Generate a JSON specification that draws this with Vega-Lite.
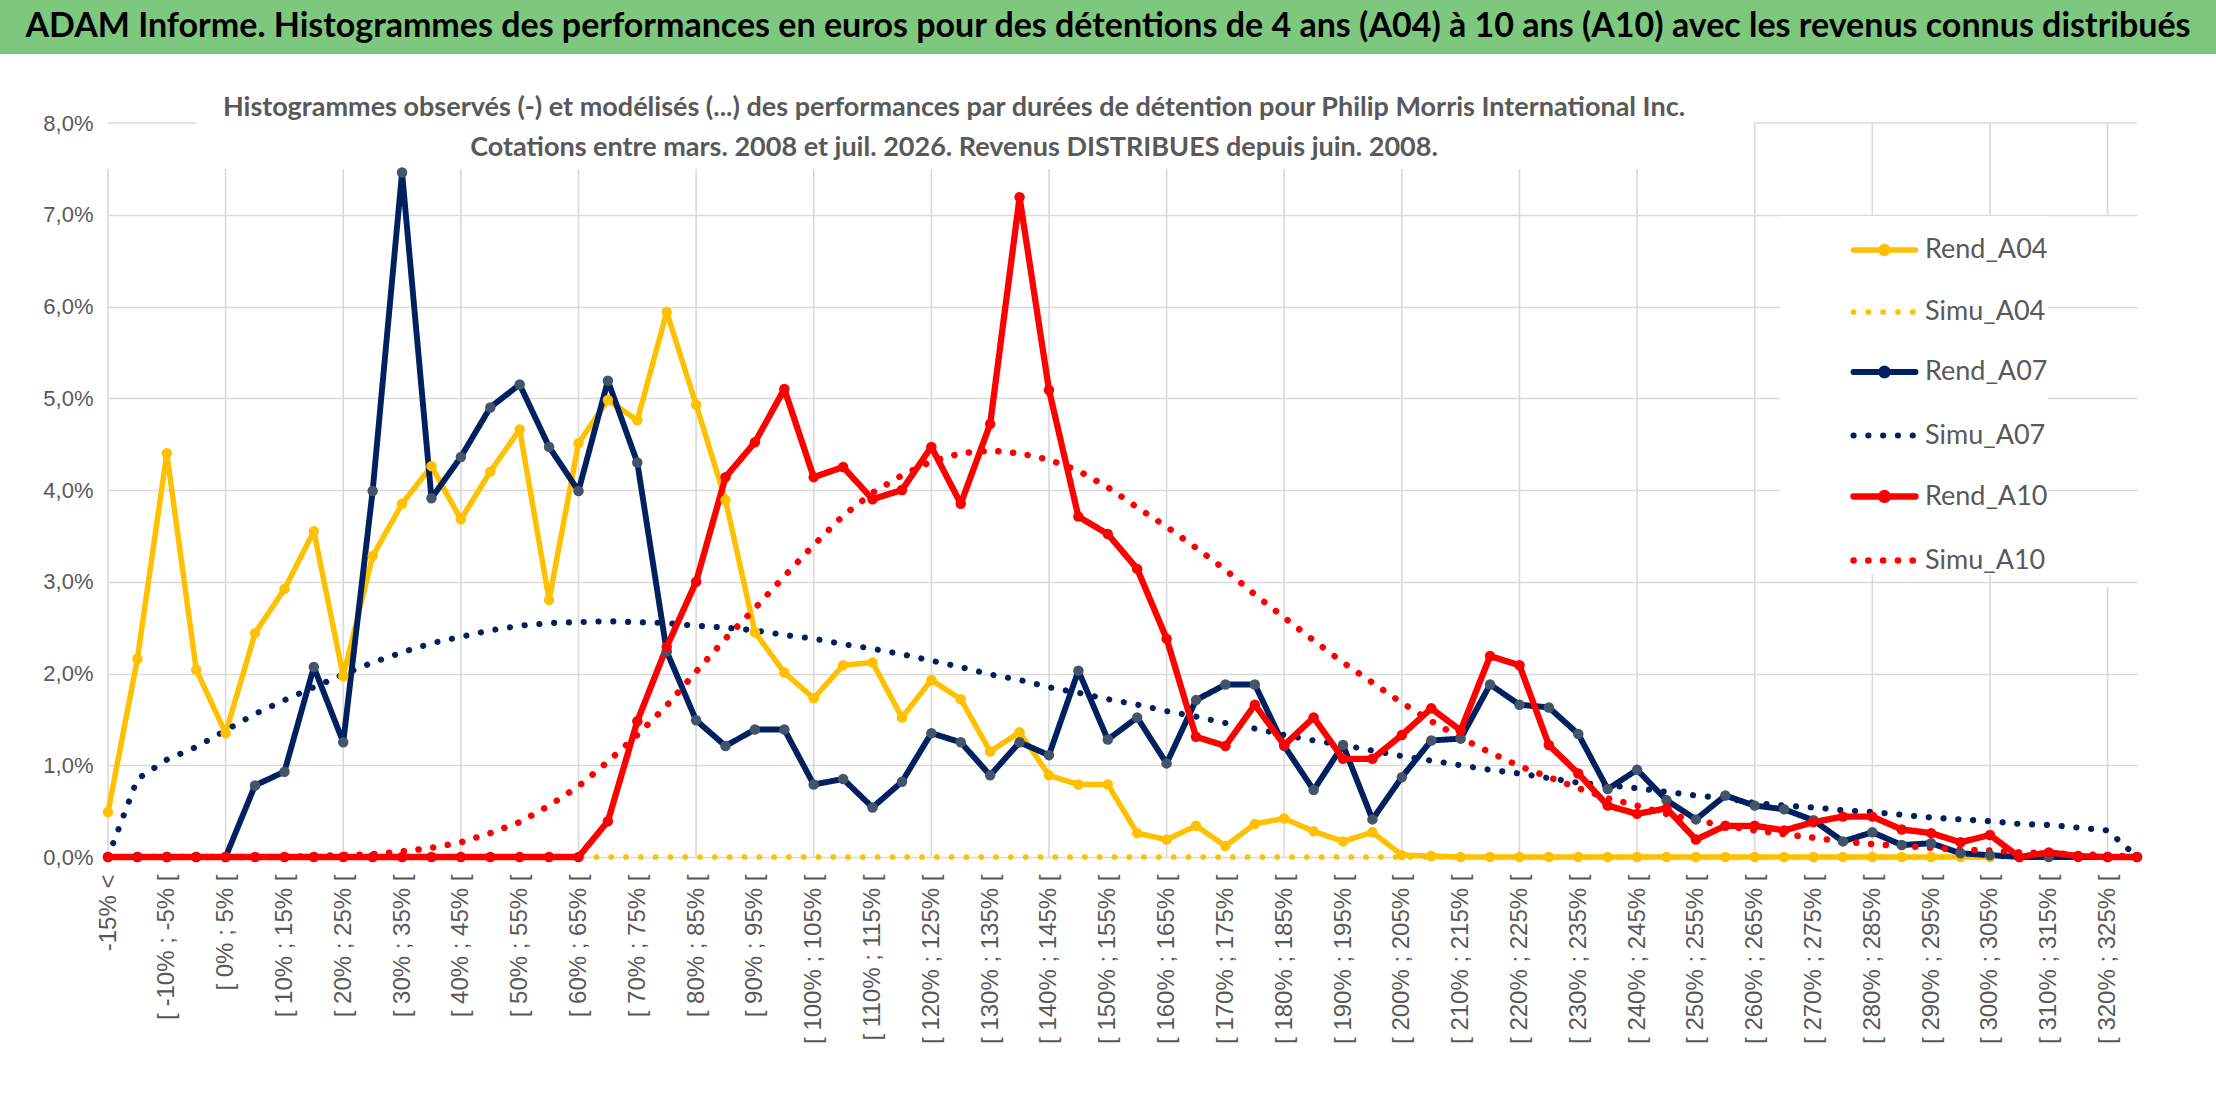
{
  "$schema": "https://vega.github.io/schema/vega-lite/v6.json",
  "background": "white",
  "padding": 0,
  "spacing": 40,
  "config": {
    "view": {"stroke": null},
    "font": "Lato, Liberation Sans, sans-serif"
  },
  "vconcat": [
    {
      "width": 2216,
      "height": 54,
      "view": {"fill": "#7DC77F", "stroke": null},
      "data": {"values": [{"t": "ADAM Informe. Histogrammes des performances en euros pour des détentions de 4 ans (A04) à 10 ans (A10) avec les revenus connus distribués"}]},
      "mark": {"type": "text", "fontSize": 34, "fontWeight": "bold", "color": "#000000", "font": "Lato, Liberation Sans, sans-serif"},
      "encoding": {"text": {"field": "t", "type": "nominal"}}
    },
    {
      "width": 2216,
      "height": 734,
      "title": {
        "text": [
          "Histogrammes observés (-) et modélisés (...) des performances par durées de détention pour Philip Morris International Inc.",
          "Cotations entre mars. 2008 et juil. 2026. Revenus DISTRIBUES depuis juin. 2008."
        ],
        "font": "Lato, Liberation Sans, sans-serif",
        "fontSize": 27,
        "fontWeight": "bold",
        "color": "#595959",
        "lineHeight": 40,
        "anchor": "middle",
        "frame": "group",
        "dx": -154,
        "offset": -50
      },
      "data": {
        "values": [
          {"c": "-15% <", "Rend_A04": 0.49, "Simu_A04": 0, "Rend_A07": 0, "Simu_A07": 0, "Rend_A10": 0, "Simu_A10": 0},
          {"c": "[ -15% ; -10% [", "Rend_A04": 2.16, "Simu_A04": 0, "Rend_A07": 0, "Simu_A07": 0.85, "Rend_A10": 0, "Simu_A10": 0},
          {"c": "[ -10% ; -5% [", "Rend_A04": 4.40, "Simu_A04": 0, "Rend_A07": 0, "Simu_A07": 1.06, "Rend_A10": 0, "Simu_A10": 0},
          {"c": "[ -5% ; 0% [", "Rend_A04": 2.04, "Simu_A04": 0, "Rend_A07": 0, "Simu_A07": 1.20, "Rend_A10": 0, "Simu_A10": 0},
          {"c": "[ 0% ; 5% [", "Rend_A04": 1.35, "Simu_A04": 0, "Rend_A07": 0, "Simu_A07": 1.38, "Rend_A10": 0, "Simu_A10": 0},
          {"c": "[ 5% ; 10% [", "Rend_A04": 2.44, "Simu_A04": 0, "Rend_A07": 0.78, "Simu_A07": 1.56, "Rend_A10": 0, "Simu_A10": 0},
          {"c": "[ 10% ; 15% [", "Rend_A04": 2.92, "Simu_A04": 0, "Rend_A07": 0.93, "Simu_A07": 1.71, "Rend_A10": 0, "Simu_A10": 0},
          {"c": "[ 15% ; 20% [", "Rend_A04": 3.55, "Simu_A04": 0, "Rend_A07": 2.07, "Simu_A07": 1.85, "Rend_A10": 0, "Simu_A10": 0.01},
          {"c": "[ 20% ; 25% [", "Rend_A04": 1.97, "Simu_A04": 0, "Rend_A07": 1.25, "Simu_A07": 1.99, "Rend_A10": 0, "Simu_A10": 0.02},
          {"c": "[ 25% ; 30% [", "Rend_A04": 3.28, "Simu_A04": 0, "Rend_A07": 3.99, "Simu_A07": 2.12, "Rend_A10": 0, "Simu_A10": 0.03},
          {"c": "[ 30% ; 35% [", "Rend_A04": 3.85, "Simu_A04": 0, "Rend_A07": 7.46, "Simu_A07": 2.23, "Rend_A10": 0, "Simu_A10": 0.06},
          {"c": "[ 35% ; 40% [", "Rend_A04": 4.26, "Simu_A04": 0, "Rend_A07": 3.91, "Simu_A07": 2.33, "Rend_A10": 0, "Simu_A10": 0.10},
          {"c": "[ 40% ; 45% [", "Rend_A04": 3.68, "Simu_A04": 0, "Rend_A07": 4.36, "Simu_A07": 2.40, "Rend_A10": 0, "Simu_A10": 0.16},
          {"c": "[ 45% ; 50% [", "Rend_A04": 4.20, "Simu_A04": 0, "Rend_A07": 4.90, "Simu_A07": 2.47, "Rend_A10": 0, "Simu_A10": 0.26},
          {"c": "[ 50% ; 55% [", "Rend_A04": 4.66, "Simu_A04": 0, "Rend_A07": 5.15, "Simu_A07": 2.52, "Rend_A10": 0, "Simu_A10": 0.38},
          {"c": "[ 55% ; 60% [", "Rend_A04": 2.80, "Simu_A04": 0, "Rend_A07": 4.47, "Simu_A07": 2.55, "Rend_A10": 0, "Simu_A10": 0.56},
          {"c": "[ 60% ; 65% [", "Rend_A04": 4.51, "Simu_A04": 0, "Rend_A07": 3.99, "Simu_A07": 2.56, "Rend_A10": 0, "Simu_A10": 0.77},
          {"c": "[ 65% ; 70% [", "Rend_A04": 4.98, "Simu_A04": 0, "Rend_A07": 5.19, "Simu_A07": 2.57, "Rend_A10": 0.39, "Simu_A10": 1.04},
          {"c": "[ 70% ; 75% [", "Rend_A04": 4.76, "Simu_A04": 0, "Rend_A07": 4.30, "Simu_A07": 2.56, "Rend_A10": 1.48, "Simu_A10": 1.33},
          {"c": "[ 75% ; 80% [", "Rend_A04": 5.94, "Simu_A04": 0, "Rend_A07": 2.24, "Simu_A07": 2.55, "Rend_A10": 2.29, "Simu_A10": 1.65},
          {"c": "[ 80% ; 85% [", "Rend_A04": 4.93, "Simu_A04": 0, "Rend_A07": 1.49, "Simu_A07": 2.52, "Rend_A10": 3.00, "Simu_A10": 2.02},
          {"c": "[ 85% ; 90% [", "Rend_A04": 3.89, "Simu_A04": 0, "Rend_A07": 1.21, "Simu_A07": 2.50, "Rend_A10": 4.14, "Simu_A10": 2.38},
          {"c": "[ 90% ; 95% [", "Rend_A04": 2.45, "Simu_A04": 0, "Rend_A07": 1.39, "Simu_A07": 2.47, "Rend_A10": 4.52, "Simu_A10": 2.71},
          {"c": "[ 95% ; 100% [", "Rend_A04": 2.01, "Simu_A04": 0, "Rend_A07": 1.39, "Simu_A07": 2.42, "Rend_A10": 5.10, "Simu_A10": 3.06},
          {"c": "[ 100% ; 105% [", "Rend_A04": 1.73, "Simu_A04": 0, "Rend_A07": 0.79, "Simu_A07": 2.38, "Rend_A10": 4.14, "Simu_A10": 3.40},
          {"c": "[ 105% ; 110% [", "Rend_A04": 2.09, "Simu_A04": 0, "Rend_A07": 0.85, "Simu_A07": 2.32, "Rend_A10": 4.25, "Simu_A10": 3.72},
          {"c": "[ 110% ; 115% [", "Rend_A04": 2.12, "Simu_A04": 0, "Rend_A07": 0.54, "Simu_A07": 2.27, "Rend_A10": 3.90, "Simu_A10": 3.97},
          {"c": "[ 115% ; 120% [", "Rend_A04": 1.52, "Simu_A04": 0, "Rend_A07": 0.82, "Simu_A07": 2.21, "Rend_A10": 4.00, "Simu_A10": 4.16},
          {"c": "[ 120% ; 125% [", "Rend_A04": 1.93, "Simu_A04": 0, "Rend_A07": 1.35, "Simu_A07": 2.14, "Rend_A10": 4.47, "Simu_A10": 4.31},
          {"c": "[ 125% ; 130% [", "Rend_A04": 1.72, "Simu_A04": 0, "Rend_A07": 1.25, "Simu_A07": 2.07, "Rend_A10": 3.85, "Simu_A10": 4.40},
          {"c": "[ 130% ; 135% [", "Rend_A04": 1.15, "Simu_A04": 0, "Rend_A07": 0.89, "Simu_A07": 1.99, "Rend_A10": 4.72, "Simu_A10": 4.43},
          {"c": "[ 135% ; 140% [", "Rend_A04": 1.36, "Simu_A04": 0, "Rend_A07": 1.25, "Simu_A07": 1.93, "Rend_A10": 7.19, "Simu_A10": 4.40},
          {"c": "[ 140% ; 145% [", "Rend_A04": 0.89, "Simu_A04": 0, "Rend_A07": 1.11, "Simu_A07": 1.85, "Rend_A10": 5.09, "Simu_A10": 4.33},
          {"c": "[ 145% ; 150% [", "Rend_A04": 0.79, "Simu_A04": 0, "Rend_A07": 2.03, "Simu_A07": 1.79, "Rend_A10": 3.71, "Simu_A10": 4.21},
          {"c": "[ 150% ; 155% [", "Rend_A04": 0.79, "Simu_A04": 0, "Rend_A07": 1.28, "Simu_A07": 1.72, "Rend_A10": 3.52, "Simu_A10": 4.03},
          {"c": "[ 155% ; 160% [", "Rend_A04": 0.26, "Simu_A04": 0, "Rend_A07": 1.52, "Simu_A07": 1.66, "Rend_A10": 3.14, "Simu_A10": 3.81},
          {"c": "[ 160% ; 165% [", "Rend_A04": 0.19, "Simu_A04": 0, "Rend_A07": 1.02, "Simu_A07": 1.59, "Rend_A10": 2.38, "Simu_A10": 3.60},
          {"c": "[ 165% ; 170% [", "Rend_A04": 0.34, "Simu_A04": 0, "Rend_A07": 1.71, "Simu_A07": 1.53, "Rend_A10": 1.31, "Simu_A10": 3.37},
          {"c": "[ 170% ; 175% [", "Rend_A04": 0.12, "Simu_A04": 0, "Rend_A07": 1.88, "Simu_A07": 1.46, "Rend_A10": 1.21, "Simu_A10": 3.13},
          {"c": "[ 175% ; 180% [", "Rend_A04": 0.36, "Simu_A04": 0, "Rend_A07": 1.88, "Simu_A07": 1.40, "Rend_A10": 1.66, "Simu_A10": 2.86},
          {"c": "[ 180% ; 185% [", "Rend_A04": 0.42, "Simu_A04": 0, "Rend_A07": 1.21, "Simu_A07": 1.33, "Rend_A10": 1.22, "Simu_A10": 2.61},
          {"c": "[ 185% ; 190% [", "Rend_A04": 0.28, "Simu_A04": 0, "Rend_A07": 0.73, "Simu_A07": 1.27, "Rend_A10": 1.52, "Simu_A10": 2.36},
          {"c": "[ 190% ; 195% [", "Rend_A04": 0.17, "Simu_A04": 0, "Rend_A07": 1.22, "Simu_A07": 1.22, "Rend_A10": 1.07, "Simu_A10": 2.12},
          {"c": "[ 195% ; 200% [", "Rend_A04": 0.27, "Simu_A04": 0, "Rend_A07": 0.41, "Simu_A07": 1.16, "Rend_A10": 1.07, "Simu_A10": 1.90},
          {"c": "[ 200% ; 205% [", "Rend_A04": 0.02, "Simu_A04": 0, "Rend_A07": 0.87, "Simu_A07": 1.10, "Rend_A10": 1.33, "Simu_A10": 1.68},
          {"c": "[ 205% ; 210% [", "Rend_A04": 0.01, "Simu_A04": 0, "Rend_A07": 1.27, "Simu_A07": 1.05, "Rend_A10": 1.62, "Simu_A10": 1.48},
          {"c": "[ 210% ; 215% [", "Rend_A04": 0, "Simu_A04": 0, "Rend_A07": 1.29, "Simu_A07": 1.00, "Rend_A10": 1.38, "Simu_A10": 1.30},
          {"c": "[ 215% ; 220% [", "Rend_A04": 0, "Simu_A04": 0, "Rend_A07": 1.88, "Simu_A07": 0.95, "Rend_A10": 2.19, "Simu_A10": 1.14},
          {"c": "[ 220% ; 225% [", "Rend_A04": 0, "Simu_A04": 0, "Rend_A07": 1.66, "Simu_A07": 0.91, "Rend_A10": 2.09, "Simu_A10": 0.99},
          {"c": "[ 225% ; 230% [", "Rend_A04": 0, "Simu_A04": 0, "Rend_A07": 1.63, "Simu_A07": 0.86, "Rend_A10": 1.22, "Simu_A10": 0.87},
          {"c": "[ 230% ; 235% [", "Rend_A04": 0, "Simu_A04": 0, "Rend_A07": 1.34, "Simu_A07": 0.81, "Rend_A10": 0.91, "Simu_A10": 0.75},
          {"c": "[ 235% ; 240% [", "Rend_A04": 0, "Simu_A04": 0, "Rend_A07": 0.74, "Simu_A07": 0.78, "Rend_A10": 0.56, "Simu_A10": 0.64},
          {"c": "[ 240% ; 245% [", "Rend_A04": 0, "Simu_A04": 0, "Rend_A07": 0.95, "Simu_A07": 0.75, "Rend_A10": 0.47, "Simu_A10": 0.56},
          {"c": "[ 245% ; 250% [", "Rend_A04": 0, "Simu_A04": 0, "Rend_A07": 0.62, "Simu_A07": 0.71, "Rend_A10": 0.53, "Simu_A10": 0.47},
          {"c": "[ 250% ; 255% [", "Rend_A04": 0, "Simu_A04": 0, "Rend_A07": 0.41, "Simu_A07": 0.67, "Rend_A10": 0.19, "Simu_A10": 0.40},
          {"c": "[ 255% ; 260% [", "Rend_A04": 0, "Simu_A04": 0, "Rend_A07": 0.67, "Simu_A07": 0.64, "Rend_A10": 0.34, "Simu_A10": 0.34},
          {"c": "[ 260% ; 265% [", "Rend_A04": 0, "Simu_A04": 0, "Rend_A07": 0.56, "Simu_A07": 0.59, "Rend_A10": 0.34, "Simu_A10": 0.29},
          {"c": "[ 265% ; 270% [", "Rend_A04": 0, "Simu_A04": 0, "Rend_A07": 0.52, "Simu_A07": 0.56, "Rend_A10": 0.29, "Simu_A10": 0.25},
          {"c": "[ 270% ; 275% [", "Rend_A04": 0, "Simu_A04": 0, "Rend_A07": 0.40, "Simu_A07": 0.54, "Rend_A10": 0.38, "Simu_A10": 0.21},
          {"c": "[ 275% ; 280% [", "Rend_A04": 0, "Simu_A04": 0, "Rend_A07": 0.17, "Simu_A07": 0.51, "Rend_A10": 0.44, "Simu_A10": 0.17},
          {"c": "[ 280% ; 285% [", "Rend_A04": 0, "Simu_A04": 0, "Rend_A07": 0.27, "Simu_A07": 0.49, "Rend_A10": 0.44, "Simu_A10": 0.14},
          {"c": "[ 285% ; 290% [", "Rend_A04": 0, "Simu_A04": 0, "Rend_A07": 0.13, "Simu_A07": 0.46, "Rend_A10": 0.30, "Simu_A10": 0.12},
          {"c": "[ 290% ; 295% [", "Rend_A04": 0, "Simu_A04": 0, "Rend_A07": 0.15, "Simu_A07": 0.43, "Rend_A10": 0.26, "Simu_A10": 0.10},
          {"c": "[ 295% ; 300% [", "Rend_A04": 0, "Simu_A04": 0, "Rend_A07": 0.04, "Simu_A07": 0.41, "Rend_A10": 0.16, "Simu_A10": 0.08},
          {"c": "[ 300% ; 305% [", "Rend_A04": 0, "Simu_A04": 0, "Rend_A07": 0.02, "Simu_A07": 0.39, "Rend_A10": 0.24, "Simu_A10": 0.07},
          {"c": "[ 305% ; 310% [", "Rend_A04": null, "Simu_A04": 0, "Rend_A07": 0, "Simu_A07": 0.36, "Rend_A10": 0, "Simu_A10": 0.05},
          {"c": "[ 310% ; 315% [", "Rend_A04": null, "Simu_A04": 0, "Rend_A07": 0, "Simu_A07": 0.35, "Rend_A10": 0.05, "Simu_A10": 0.04},
          {"c": "[ 315% ; 320% [", "Rend_A04": null, "Simu_A04": 0, "Rend_A07": 0, "Simu_A07": 0.32, "Rend_A10": 0.01, "Simu_A10": 0.03},
          {"c": "[ 320% ; 325% [", "Rend_A04": null, "Simu_A04": 0, "Rend_A07": 0, "Simu_A07": 0.29, "Rend_A10": 0, "Simu_A10": 0.02},
          {"c": "[ 325% ; 330% [", "Rend_A04": null, "Simu_A04": 0, "Rend_A07": 0, "Simu_A07": 0, "Rend_A10": 0, "Simu_A10": 0}
        ]
      },
      "transform": [
        {"fold": ["Rend_A04", "Simu_A04", "Rend_A07", "Simu_A07", "Rend_A10", "Simu_A10"], "as": ["s", "v"]}
      ],
      "encoding": {
        "x": {
          "field": "c",
          "type": "nominal",
          "scale": {
            "type": "point",
            "padding": 0,
            "range": [108, 2137],
            "domain": ["-15% <", "[ -15% ; -10% [", "[ -10% ; -5% [", "[ -5% ; 0% [", "[ 0% ; 5% [", "[ 5% ; 10% [", "[ 10% ; 15% [", "[ 15% ; 20% [", "[ 20% ; 25% [", "[ 25% ; 30% [", "[ 30% ; 35% [", "[ 35% ; 40% [", "[ 40% ; 45% [", "[ 45% ; 50% [", "[ 50% ; 55% [", "[ 55% ; 60% [", "[ 60% ; 65% [", "[ 65% ; 70% [", "[ 70% ; 75% [", "[ 75% ; 80% [", "[ 80% ; 85% [", "[ 85% ; 90% [", "[ 90% ; 95% [", "[ 95% ; 100% [", "[ 100% ; 105% [", "[ 105% ; 110% [", "[ 110% ; 115% [", "[ 115% ; 120% [", "[ 120% ; 125% [", "[ 125% ; 130% [", "[ 130% ; 135% [", "[ 135% ; 140% [", "[ 140% ; 145% [", "[ 145% ; 150% [", "[ 150% ; 155% [", "[ 155% ; 160% [", "[ 160% ; 165% [", "[ 165% ; 170% [", "[ 170% ; 175% [", "[ 175% ; 180% [", "[ 180% ; 185% [", "[ 185% ; 190% [", "[ 190% ; 195% [", "[ 195% ; 200% [", "[ 200% ; 205% [", "[ 205% ; 210% [", "[ 210% ; 215% [", "[ 215% ; 220% [", "[ 220% ; 225% [", "[ 225% ; 230% [", "[ 230% ; 235% [", "[ 235% ; 240% [", "[ 240% ; 245% [", "[ 245% ; 250% [", "[ 250% ; 255% [", "[ 255% ; 260% [", "[ 260% ; 265% [", "[ 265% ; 270% [", "[ 270% ; 275% [", "[ 275% ; 280% [", "[ 280% ; 285% [", "[ 285% ; 290% [", "[ 290% ; 295% [", "[ 295% ; 300% [", "[ 300% ; 305% [", "[ 305% ; 310% [", "[ 310% ; 315% [", "[ 315% ; 320% [", "[ 320% ; 325% [", "[ 325% ; 330% ["]
          },
          "axis": {
            "title": null,
            "values": ["-15% <", "[ -10% ; -5% [", "[ 0% ; 5% [", "[ 10% ; 15% [", "[ 20% ; 25% [", "[ 30% ; 35% [", "[ 40% ; 45% [", "[ 50% ; 55% [", "[ 60% ; 65% [", "[ 70% ; 75% [", "[ 80% ; 85% [", "[ 90% ; 95% [", "[ 100% ; 105% [", "[ 110% ; 115% [", "[ 120% ; 125% [", "[ 130% ; 135% [", "[ 140% ; 145% [", "[ 150% ; 155% [", "[ 160% ; 165% [", "[ 170% ; 175% [", "[ 180% ; 185% [", "[ 190% ; 195% [", "[ 200% ; 205% [", "[ 210% ; 215% [", "[ 220% ; 225% [", "[ 230% ; 235% [", "[ 240% ; 245% [", "[ 250% ; 255% [", "[ 260% ; 265% [", "[ 270% ; 275% [", "[ 280% ; 285% [", "[ 290% ; 295% [", "[ 300% ; 305% [", "[ 310% ; 315% [", "[ 320% ; 325% ["],
            "labelAngle": -90,
            "labelFont": "Liberation Sans, sans-serif",
            "labelFontSize": 24,
            "labelColor": "#595959",
            "labelPadding": 17,
            "labelLimit": 400,
            "labelOverlap": false,
            "ticks": false,
            "domain": false,
            "grid": false
          }
        },
        "y": {
          "field": "v",
          "type": "quantitative",
          "scale": {"domain": [0, 8], "nice": false},
          "axis": {
            "title": null,
            "offset": -108,
            "values": [0, 1, 2, 3, 4, 5, 6, 7, 8],
            "labelExpr": "replace(format(datum.value, '.1f'), '.', ',') + '%'",
            "labelFont": "Liberation Sans, sans-serif",
            "labelFontSize": 22,
            "labelColor": "#595959",
            "labelPadding": 15,
            "ticks": false,
            "domain": false,
            "grid": true,
            "gridColor": "#D9D9D9",
            "gridWidth": 1.6,
            "gridOpacity": {"condition": {"test": "datum.value === 8", "value": 0}, "value": 1}
          }
        }
      },
      "layer": [
        {
          "transform": [
            {"filter": {"field": "s", "equal": "Simu_A04"}},
            {"filter": {"field": "c", "oneOf": ["-15% <", "[ 0% ; 5% [", "[ 20% ; 25% [", "[ 40% ; 45% [", "[ 60% ; 65% [", "[ 80% ; 85% [", "[ 100% ; 105% [", "[ 120% ; 125% [", "[ 140% ; 145% [", "[ 160% ; 165% [", "[ 180% ; 185% [", "[ 200% ; 205% [", "[ 220% ; 225% [", "[ 240% ; 245% ["]}}
          ],
          "mark": {"type": "rule", "color": "#D9D9D9", "strokeWidth": 1.6},
          "encoding": {"y": {"datum": 0}, "y2": {"datum": 7.5}}
        },
        {
          "transform": [
            {"filter": {"field": "s", "equal": "Simu_A04"}},
            {"filter": {"field": "c", "oneOf": ["[ 260% ; 265% [", "[ 280% ; 285% [", "[ 300% ; 305% ["]}}
          ],
          "mark": {"type": "rule", "color": "#D9D9D9", "strokeWidth": 1.6},
          "encoding": {"y": {"datum": 0}, "y2": {"datum": 8}}
        },
        {
          "transform": [
            {"filter": {"field": "s", "equal": "Simu_A04"}},
            {"filter": {"field": "c", "equal": "[ 320% ; 325% ["}}
          ],
          "mark": {"type": "rule", "color": "#D9D9D9", "strokeWidth": 1.6},
          "encoding": {"y": {"datum": 0}, "y2": {"datum": 2.95}}
        },
        {
          "transform": [
            {"filter": {"field": "s", "equal": "Simu_A04"}},
            {"filter": {"field": "c", "equal": "[ 320% ; 325% ["}}
          ],
          "mark": {"type": "rule", "color": "#D9D9D9", "strokeWidth": 1.6},
          "encoding": {"y": {"datum": 7}, "y2": {"datum": 8}}
        },
        {
          "transform": [
            {"filter": {"field": "s", "equal": "Simu_A04"}},
            {"filter": {"field": "c", "equal": "-15% <"}}
          ],
          "mark": {"type": "rule", "color": "#D9D9D9", "strokeWidth": 1.6},
          "encoding": {"y": {"datum": 8}, "x2": {"datum": "[ -5% ; 0% ["}}
        },
        {
          "transform": [
            {"filter": {"field": "s", "equal": "Simu_A04"}},
            {"filter": {"field": "c", "equal": "[ 260% ; 265% ["}}
          ],
          "mark": {"type": "rule", "color": "#D9D9D9", "strokeWidth": 1.6},
          "encoding": {"y": {"datum": 8}, "x2": {"datum": "[ 325% ; 330% ["}}
        },
        {
          "mark": {"type": "line", "strokeCap": "round", "strokeJoin": "round"},
          "encoding": {
            "stroke": {
              "field": "s",
              "type": "nominal",
              "scale": {
                "domain": ["Rend_A04", "Simu_A04", "Rend_A07", "Simu_A07", "Rend_A10", "Simu_A10"],
                "range": ["#FFC000", "#FFC000", "#002060", "#002060", "#FF0000", "#FF0000"]
              },
              "legend": {
                "title": null,
                "orient": "none",
                "legendX": 1780,
                "legendY": 216,
                "fillColor": "white",
                "padding": 0,
                "rowPadding": 13,
                "symbolSize": 3844,
                "symbolStrokeWidth": 7,
                "symbolOffset": 70,
                "labelFont": "Lato, Liberation Sans, sans-serif",
                "labelFontSize": 27,
                "labelColor": "#595959",
                "labelOffset": 6,
                "encode": {
                  "symbols": {
                    "update": {
                      "shape": {"signal": "(datum.value === 'Rend_A04' || datum.value === 'Rend_A07' || datum.value === 'Rend_A10') ? 'M-1,0H1M0.11,0A0.11,0.11,0,1,1,-0.11,0A0.11,0.11,0,1,1,0.11,0Z' : 'M-1,0H1'"},
                      "strokeCap": {"value": "round"},
                      "fill": {"signal": "datum.value === 'Rend_A07' ? '#44546A' : datum.value === 'Rend_A04' ? '#FFC000' : datum.value === 'Rend_A10' ? '#FF0000' : 'transparent'"}
                    }
                  }
                }
              }
            },
            "strokeDash": {
              "field": "s",
              "type": "nominal",
              "scale": {
                "domain": ["Rend_A04", "Simu_A04", "Rend_A07", "Simu_A07", "Rend_A10", "Simu_A10"],
                "range": [[1, 0], [0.1, 14.7], [1, 0], [0.1, 14.7], [1, 0], [0.1, 14.7]]
              },
              "legend": {
                "title": null,
                "orient": "none",
                "legendX": 1780,
                "legendY": 216,
                "fillColor": "white",
                "padding": 0,
                "rowPadding": 13,
                "symbolSize": 3844,
                "symbolStrokeWidth": 7,
                "symbolOffset": 70,
                "labelFont": "Lato, Liberation Sans, sans-serif",
                "labelFontSize": 27,
                "labelColor": "#595959",
                "labelOffset": 6,
                "encode": {
                  "symbols": {
                    "update": {
                      "shape": {"signal": "(datum.value === 'Rend_A04' || datum.value === 'Rend_A07' || datum.value === 'Rend_A10') ? 'M-1,0H1M0.11,0A0.11,0.11,0,1,1,-0.11,0A0.11,0.11,0,1,1,0.11,0Z' : 'M-1,0H1'"},
                      "strokeCap": {"value": "round"},
                      "fill": {"signal": "datum.value === 'Rend_A07' ? '#44546A' : datum.value === 'Rend_A04' ? '#FFC000' : datum.value === 'Rend_A10' ? '#FF0000' : 'transparent'"}
                    }
                  }
                }
              }
            },
            "strokeWidth": {
              "field": "s",
              "type": "nominal",
              "scale": {
                "domain": ["Rend_A04", "Simu_A04", "Rend_A07", "Simu_A07", "Rend_A10", "Simu_A10"],
                "range": [5.5, 6.5, 5.5, 6.5, 5.5, 6.5]
              },
              "legend": null
            }
          }
        },
        {
          "transform": [{"filter": {"field": "s", "oneOf": ["Rend_A04", "Rend_A07", "Rend_A10"]}}],
          "mark": {"type": "circle", "size": 110, "opacity": 1},
          "encoding": {
            "fill": {
              "field": "s",
              "type": "nominal",
              "scale": {
                "domain": ["Rend_A04", "Rend_A07", "Rend_A10"],
                "range": ["#FFC000", "#44546A", "#FF0000"]
              },
              "legend": null
            }
          }
        }
      ]
    }
  ]
}
